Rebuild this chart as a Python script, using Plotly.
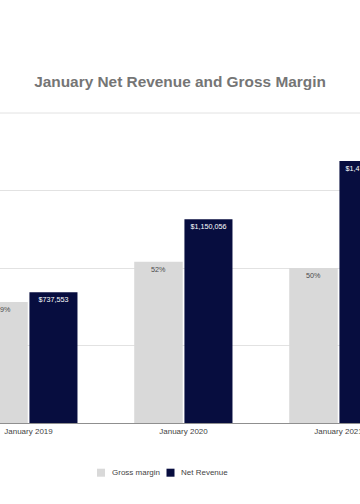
import plotly.graph_objects as go

categories = ["January 2019", "January 2020", "January 2021"]
gross_margin = [0.39, 0.52, 0.50]
net_revenue = [737553, 1150056, 1479215]
margin_labels = ["39%", "52%", "50%"]
revenue_labels = ["$737,553", "$1,150,056", "$1,479,215"]
series_names = ["Gross margin", "Net Revenue"]

GRAY = "#d9d9d9"
NAVY = "#070d3f"
FONT = "Liberation Sans, Arial, sans-serif"

W, H = 360, 504
T, B = 113, 81
PH = H - T - B

fig = go.Figure()
fig.add_trace(go.Bar(
    x=categories, y=gross_margin, yaxis="y2", name=series_names[0],
    marker=dict(color=GRAY, line=dict(width=0)),
    width=0.313, offset=-0.318,
    text=margin_labels, textposition="inside", insidetextanchor="end",
    textangle=0, textfont=dict(size=7.2, color="#4a4a4a", family=FONT),
    showlegend=False, cliponaxis=True, hoverinfo="skip",
))
fig.add_trace(go.Bar(
    x=categories, y=net_revenue, yaxis="y", name=series_names[1],
    marker=dict(color=NAVY, line=dict(width=0)),
    width=0.31, offset=0.006,
    text=revenue_labels, textposition="inside", insidetextanchor="end",
    textangle=0, textfont=dict(size=7.2, color="#ffffff", family=FONT),
    showlegend=False, cliponaxis=True, hoverinfo="skip",
))

# top border gridline of the plot area
fig.add_shape(type="line", xref="paper", yref="paper", x0=0, x1=1, y0=1, y1=1,
              line=dict(color="#e2e2e2", width=1), layer="below")

# legend (squares + labels) below the plot
leg_cy = 472.7
leg_items = [(series_names[0], GRAY, 97), (series_names[1], NAVY, 166.5)]
for nm, col, px in leg_items:
    fig.add_shape(type="rect", xref="paper", yref="paper",
                  x0=px / W, x1=(px + 8) / W,
                  y0=(H - B - (leg_cy + 4)) / PH, y1=(H - B - (leg_cy - 4)) / PH,
                  fillcolor=col, line=dict(width=0))
    fig.add_annotation(text=nm, xref="paper", yref="paper",
                       x=(px + 12.5) / W, y=(H - B - leg_cy) / PH,
                       xanchor="left", yanchor="middle", showarrow=False,
                       font=dict(size=8, color="#444444", family=FONT))

fig.update_layout(
    width=W, height=H,
    margin=dict(l=0, r=0, t=T, b=B, autoexpand=False),
    paper_bgcolor="white", plot_bgcolor="white",
    font=dict(family=FONT, size=8, color="#444444"),
    title=dict(text="<b>January Net Revenue and Gross Margin</b>",
               x=0.5, xanchor="center", y=1 - 82 / H, yanchor="middle",
               yref="container",
               font=dict(size=15.4, color="#757575", family=FONT)),
    barmode="overlay",
    showlegend=False,
    xaxis=dict(type="category", range=[-0.1839, 2.1387], showgrid=False,
               showline=True, linecolor="#8f8f8f", linewidth=1,
               ticks="", tickfont=dict(size=8, color="#444444"),
               automargin=False, fixedrange=True),
    yaxis=dict(range=[0, 1750000], showgrid=False, showticklabels=False,
               zeroline=False, automargin=False, fixedrange=True),
    yaxis2=dict(range=[0, 1.0], overlaying="y", side="right",
                showgrid=True, gridcolor="#e2e2e2", gridwidth=1,
                dtick=0.25, tick0=0, showticklabels=False,
                zeroline=False, automargin=False, fixedrange=True),
)

fig.write_html("out.html",
               config={"displayModeBar": False, "staticPlot": True},
               post_script="document.body.style.margin='0';"
                           "document.body.style.overflow='hidden';")
